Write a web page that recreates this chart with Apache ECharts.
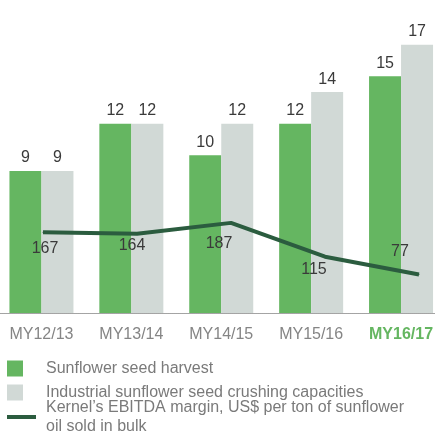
<!DOCTYPE html>
<html>
<head>
<meta charset="utf-8">
<script src="https://cdn.jsdelivr.net/npm/echarts@6/dist/echarts.min.js"></script>
<style>
  html, body { margin: 0; padding: 0; background: #fff; }
  #chart { width: 435px; height: 432px; }
</style>
</head>
<body>
<div id="chart"></div>
<script>
// data
var years = ['MY12/13', 'MY13/14', 'MY14/15', 'MY15/16', 'MY16/17'];
var harvest = [9, 12, 10, 12, 15];
var crushing = [9, 12, 12, 14, 17];
var ebitda = [167, 164, 187, 115, 77];
// where each EBITDA label sits relative to its point
var labelShift = [[2, 16], [-5, 12], [-12, 21], [-11, 13], [-19, -23]];

var names = [
    'Sunflower seed harvest',
    'Industrial sunflower seed crushing capacities',
    'Kernel\u2019s EBITDA margin, US$ per ton of sunflower oil sold in bulk'
];

var font = 'Liberation Sans';
var green = '#65b661';
var grey = '#d1d9d6';
var dark = '#2b5c3f';

(function () {
    var myChart = echarts.init(document.getElementById('chart'));

    var lineData = ebitda.map(function (v, i) {
        return { value: v, label: { offset: labelShift[i] } };
    });

    function legend(name, top, iconW, iconH, pad) {
        return {
            data: [name],
            left: 7,
            top: top,
            padding: 0,
            icon: 'rect',
            itemWidth: iconW,
            itemHeight: iconH,
            selectedMode: false,
            formatter: function (n) {
                return n.replace('sunflower oil', 'sunflower\noil');
            },
            textStyle: {
                fontFamily: font,
                fontSize: 16,
                color: '#7a7a7a',
                lineHeight: 19,
                padding: [0, 0, 0, pad]
            }
        };
    }

    var option = {
        animation: false,
        grid: [
            { left: -3.5, right: -11, top: 29, bottom: 119, outerBoundsMode: 'none' },
            { left: -4, right: -31, top: 29, bottom: 119, outerBoundsMode: 'none' }
        ],
        legend: [
            legend(names[0], 359, 16, 16, 18),
            legend(names[1], 383, 16, 16, 18),
            legend(names[2], 398, 29, 4, 5)
        ],
        xAxis: [
            {
                type: 'category',
                gridIndex: 0,
                data: years,
                axisTick: { show: false },
                axisLine: { lineStyle: { color: '#9a9a9a', type: 'dotted', width: 1 } },
                axisLabel: {
                    interval: 0,
                    margin: 14,
                    fontFamily: font,
                    fontSize: 16,
                    color: '#858585',
                    formatter: function (v, i) {
                        return i === years.length - 1 ? '{hl|' + v + '}' : v;
                    },
                    rich: {
                        hl: { color: green, fontWeight: 'bold', fontFamily: font, fontSize: 16 }
                    }
                }
            },
            {
                type: 'category',
                gridIndex: 1,
                data: years,
                show: false
            }
        ],
        yAxis: [
            { type: 'value', gridIndex: 0, min: 0, max: 18, show: false, splitLine: { show: false } },
            { type: 'value', gridIndex: 1, min: -5, max: 600, show: false, splitLine: { show: false } }
        ],
        series: [
            {
                name: names[0],
                type: 'bar',
                barWidth: 32,
                barGap: '0%',
                itemStyle: { color: green },
                label: {
                    show: true,
                    position: 'top',
                    distance: 5,
                    fontFamily: font,
                    fontSize: 16,
                    color: '#3a3a3a'
                },
                data: harvest
            },
            {
                name: names[1],
                type: 'bar',
                barWidth: 32,
                itemStyle: { color: grey },
                label: {
                    show: true,
                    position: 'top',
                    distance: 5,
                    fontFamily: font,
                    fontSize: 16,
                    color: '#3a3a3a'
                },
                data: crushing
            },
            {
                name: names[2],
                type: 'line',
                xAxisIndex: 1,
                yAxisIndex: 1,
                symbol: 'circle',
                symbolSize: 1,
                itemStyle: { color: dark },
                lineStyle: { color: dark, width: 4 },
                label: {
                    show: true,
                    position: 'inside',
                    fontFamily: font,
                    fontSize: 16,
                    color: '#3a3a3a'
                },
                data: lineData
            }
        ]
    };
    myChart.setOption(option);
})();
</script>
</body>
</html>
